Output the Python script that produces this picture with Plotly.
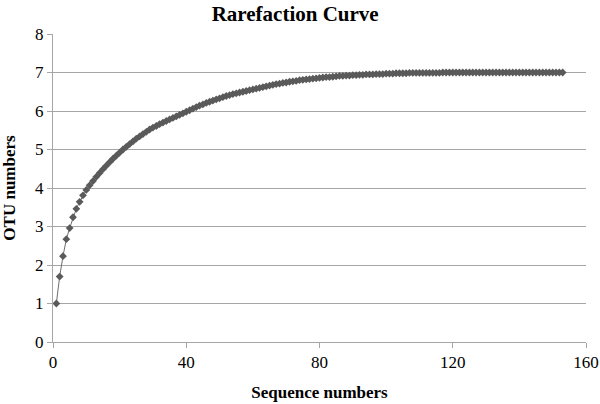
import plotly.graph_objects as go

seq_numbers = list(range(1, 154))
otu_numbers = [
    1.00, 1.70, 2.23, 2.67, 2.96, 3.24, 3.46, 3.64, 3.81, 3.95,
    4.07, 4.18, 4.29, 4.39, 4.49, 4.58, 4.67, 4.76, 4.84, 4.92,
    5.00, 5.07, 5.14, 5.21, 5.28, 5.34, 5.40, 5.46, 5.52, 5.57,
    5.61, 5.66, 5.70, 5.74, 5.78, 5.82, 5.86, 5.90, 5.94, 5.98,
    6.02, 6.06, 6.10, 6.14, 6.17, 6.21, 6.24, 6.27, 6.30, 6.33,
    6.36, 6.39, 6.41, 6.44, 6.46, 6.48, 6.50, 6.52, 6.54, 6.56,
    6.58, 6.60, 6.62, 6.64, 6.66, 6.68, 6.70, 6.71, 6.73, 6.74,
    6.76, 6.77, 6.78, 6.80, 6.81, 6.82, 6.83, 6.84, 6.85, 6.86,
    6.87, 6.88, 6.88, 6.89, 6.90, 6.91, 6.91, 6.92, 6.92, 6.93,
    6.93, 6.94, 6.94, 6.95, 6.95, 6.95, 6.96, 6.96, 6.96, 6.97,
    6.97, 6.97, 6.98, 6.98, 6.98, 6.98, 6.99, 6.99, 6.99, 6.99,
    6.99, 6.99, 6.99, 6.99, 6.99, 6.99, 7.00, 7.00, 7.00, 7.00,
    7.00, 7.00, 7.00, 7.00, 7.00, 7.00, 7.00, 7.00, 7.00, 7.00,
    7.00, 7.00, 7.00, 7.00, 7.00, 7.00, 7.00, 7.00, 7.00, 7.00,
    7.00, 7.00, 7.00, 7.00, 7.00, 7.00, 7.00, 7.00, 7.00, 7.00,
    7.00, 7.00, 7.00,
]
x_ticks = [0, 40, 80, 120, 160]
y_ticks = [0, 1, 2, 3, 4, 5, 6, 7, 8]

FONT = "Liberation Serif, Times New Roman, serif"
GRID = "#a6a6a6"

fig = go.Figure()
fig.add_trace(go.Scatter(
    x=seq_numbers, y=otu_numbers, mode="lines+markers",
    line=dict(color="#6e6e6e", width=1),
    marker=dict(symbol="diamond", size=6, color="#5a5a5a"),
    showlegend=False,
))

fig.update_layout(
    width=600, height=404,
    margin=dict(l=53, r=14, t=34, b=62),
    paper_bgcolor="white", plot_bgcolor="white",
    font=dict(family=FONT, size=17, color="black"),
    title=dict(text="<b>Rarefaction Curve</b>", x=0.492, xanchor="center",
               y=0.985, yanchor="top",
               font=dict(family=FONT, size=21, color="black")),
    xaxis=dict(
        range=[0, 160], tickvals=x_ticks, ticks="outside", ticklen=5,
        tickcolor=GRID, showline=True, linecolor=GRID, linewidth=1,
        showgrid=False, zeroline=False, automargin=False,
        tickfont=dict(family=FONT, size=17),
        title=dict(text="<b>Sequence numbers</b>", standoff=14,
                   font=dict(family=FONT, size=17)),
    ),
    yaxis=dict(
        range=[0, 8], tickvals=y_ticks, ticks="outside", ticklen=5,
        tickcolor=GRID, showline=True, linecolor=GRID, linewidth=1,
        showgrid=True, gridcolor=GRID, gridwidth=1, zeroline=False,
        automargin=False,
        tickfont=dict(family=FONT, size=17),
        title=dict(text="<b>OTU numbers</b>", standoff=16,
                   font=dict(family=FONT, size=17)),
    ),
)

fig.write_html("out.html", config={"displayModeBar": False},
               post_script="document.body.style.margin='0';")
